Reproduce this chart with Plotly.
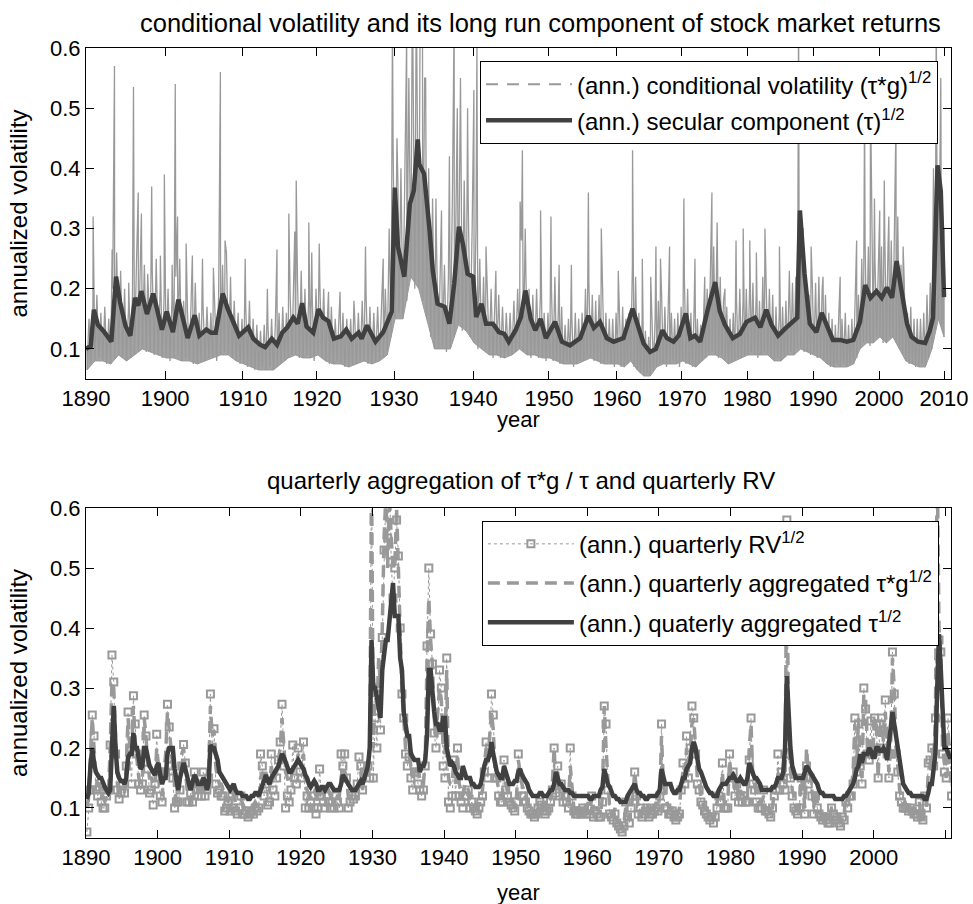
import numpy as np
import plotly.graph_objects as go

# ---------------- axis definitions ----------------
# top panel x axis runs on observation (trading day) count, in thousands,
# so decades are not equally wide; these are the counts at each decade start
decade_years = [1890, 1900, 1910, 1920, 1930, 1940, 1950, 1960, 1970, 1980, 1990, 2000, 2010]
decade_obs_k = [0.0, 3.07, 6.09, 8.96, 11.95, 15.02, 17.96, 20.60, 23.12, 25.65, 28.21, 30.77, 33.29]
obs_end_k = 33.56

yticks = [0.1, 0.2, 0.3, 0.4, 0.5, 0.6]

# ---------------- top panel data ----------------
top_tau_year = [1890.0, 1890.6, 1891.0, 1891.5, 1892.2, 1892.8, 1893.2, 1893.8, 1894.3, 1895.0,
                1895.6, 1896.2, 1896.6, 1897.0, 1897.7, 1898.5, 1899.2, 1899.6, 1900.2, 1900.7,
                1901.0, 1901.7, 1902.3, 1902.9, 1903.8, 1904.4, 1905.3, 1905.9, 1906.5, 1907.4,
                1908.0, 1908.6, 1909.5, 1910.7, 1911.4, 1912.3, 1913.0, 1913.9, 1914.6, 1915.3,
                1916.0, 1916.8, 1917.4, 1918.0, 1918.6, 1919.5, 1920.2, 1920.8, 1921.5, 1922.2,
                1923.1, 1923.8, 1924.5, 1925.4, 1925.8, 1926.5, 1927.6, 1928.6, 1929.7, 1930.1,
                1930.5, 1931.3, 1932.0, 1932.5, 1933.0, 1933.2, 1933.8, 1934.5, 1934.9, 1935.5,
                1936.4, 1937.0, 1937.6, 1938.2, 1938.7, 1939.3, 1940.0, 1940.4, 1941.1, 1941.7,
                1942.6, 1943.4, 1944.1, 1944.7, 1945.6, 1946.3, 1946.9, 1947.6, 1948.2, 1948.9,
                1949.6, 1950.9, 1951.9, 1953.1, 1953.8, 1954.6, 1955.8, 1956.6, 1957.5, 1958.5,
                1959.5, 1961.0, 1962.4, 1963.1, 1964.1, 1965.1, 1966.0, 1967.0, 1967.7, 1968.7,
                1969.5, 1970.6, 1971.3, 1972.0, 1972.8, 1974.0, 1975.1, 1975.8, 1976.6, 1977.8,
                1978.9, 1979.9, 1981.2, 1982.0, 1982.9, 1983.7, 1984.7, 1985.8, 1986.8, 1987.6,
                1988.0, 1988.7, 1989.5, 1990.5, 1991.3, 1992.0, 1993.0, 1994.1, 1995.1, 1996.1,
                1997.1, 1997.9, 1998.7, 1999.6, 2000.4, 2001.2, 2002.0, 2002.7, 2003.5, 2004.3,
                2005.0, 2006.0, 2007.1, 2007.8, 2008.3, 2009.0, 2009.5, 2010.0, 2010.9]
top_tau_val = [0.100, 0.105, 0.165, 0.140, 0.130, 0.118, 0.112, 0.220, 0.178, 0.138,
               0.122, 0.185, 0.172, 0.196, 0.158, 0.192, 0.152, 0.132, 0.162, 0.138,
               0.128, 0.182, 0.148, 0.118, 0.156, 0.122, 0.132, 0.127, 0.127, 0.192,
               0.168, 0.148, 0.122, 0.136, 0.117, 0.107, 0.103, 0.117, 0.107, 0.127,
               0.136, 0.152, 0.142, 0.176, 0.137, 0.127, 0.166, 0.152, 0.146, 0.117,
               0.121, 0.132, 0.117, 0.127, 0.117, 0.139, 0.112, 0.128, 0.162, 0.368,
               0.270, 0.220, 0.341, 0.363, 0.448, 0.407, 0.391, 0.297, 0.230, 0.175,
               0.170, 0.142, 0.208, 0.303, 0.275, 0.225, 0.220, 0.153, 0.175, 0.142,
               0.142, 0.128, 0.125, 0.112, 0.131, 0.153, 0.197, 0.150, 0.131, 0.150,
               0.118, 0.145, 0.112, 0.106, 0.112, 0.118, 0.155, 0.135, 0.145, 0.118,
               0.112, 0.118, 0.167, 0.142, 0.109, 0.095, 0.100, 0.131, 0.118, 0.112,
               0.122, 0.159, 0.118, 0.122, 0.112, 0.167, 0.211, 0.163, 0.140, 0.118,
               0.125, 0.145, 0.152, 0.136, 0.165, 0.140, 0.122, 0.134, 0.145, 0.152,
               0.330, 0.225, 0.142, 0.128, 0.160, 0.140, 0.115, 0.115, 0.112, 0.115,
               0.145, 0.206, 0.185, 0.196, 0.185, 0.202, 0.185, 0.246, 0.190, 0.142,
               0.120, 0.112, 0.110, 0.130, 0.152, 0.405, 0.362, 0.203, 0.186]

# conditional volatility: low / high excursions, first and second half of each year
cv_year = list(range(1890, 2011))
cv_low_a = [0.065, 0.080, 0.080, 0.075, 0.090, 0.080, 0.090, 0.100, 0.095, 0.090,
            0.085, 0.085, 0.080, 0.080, 0.075, 0.080, 0.085, 0.090, 0.090, 0.080,
            0.075, 0.070, 0.065, 0.065, 0.065, 0.075, 0.085, 0.090, 0.085, 0.085,
            0.090, 0.080, 0.075, 0.075, 0.070, 0.075, 0.080, 0.075, 0.080, 0.090,
            0.150, 0.150, 0.220, 0.200, 0.150, 0.100, 0.100, 0.100, 0.140, 0.130,
            0.110, 0.100, 0.090, 0.090, 0.085, 0.090, 0.100, 0.090, 0.090, 0.085,
            0.085, 0.080, 0.075, 0.075, 0.075, 0.080, 0.085, 0.080, 0.075, 0.075,
            0.075, 0.070, 0.080, 0.065, 0.055, 0.055, 0.070, 0.075, 0.075, 0.075,
            0.080, 0.075, 0.070, 0.080, 0.090, 0.090, 0.085, 0.075, 0.080, 0.085,
            0.090, 0.090, 0.090, 0.090, 0.080, 0.080, 0.090, 0.090, 0.100, 0.095,
            0.090, 0.085, 0.075, 0.070, 0.070, 0.070, 0.075, 0.100, 0.110, 0.110,
            0.120, 0.110, 0.120, 0.100, 0.080, 0.075, 0.070, 0.070, 0.100, 0.150,
            0.120]
cv_high_a = [0.150, 0.190, 0.170, 0.200, 0.230, 0.170, 0.240, 0.240, 0.230, 0.200,
             0.200, 0.220, 0.180, 0.190, 0.160, 0.170, 0.180, 0.240, 0.200, 0.160,
             0.170, 0.150, 0.130, 0.140, 0.140, 0.170, 0.190, 0.210, 0.200, 0.180,
             0.210, 0.180, 0.150, 0.160, 0.150, 0.160, 0.190, 0.160, 0.180, 0.300,
             0.450, 0.450, 0.620, 0.620, 0.400, 0.270, 0.240, 0.350, 0.450, 0.350,
             0.300, 0.220, 0.200, 0.190, 0.160, 0.180, 0.280, 0.200, 0.200, 0.160,
             0.200, 0.160, 0.140, 0.150, 0.150, 0.200, 0.190, 0.190, 0.160, 0.150,
             0.160, 0.150, 0.240, 0.160, 0.130, 0.140, 0.180, 0.170, 0.160, 0.160,
             0.220, 0.160, 0.150, 0.200, 0.250, 0.240, 0.180, 0.150, 0.180, 0.180,
             0.200, 0.190, 0.220, 0.200, 0.170, 0.170, 0.200, 0.220, 0.300, 0.190,
             0.210, 0.200, 0.160, 0.140, 0.150, 0.140, 0.170, 0.250, 0.270, 0.250,
             0.270, 0.270, 0.300, 0.240, 0.160, 0.150, 0.150, 0.190, 0.400, 0.450,
             0.250]
cv_low_b = [0.075, 0.085, 0.075, 0.085, 0.085, 0.085, 0.095, 0.095, 0.090, 0.085,
            0.080, 0.090, 0.085, 0.075, 0.080, 0.085, 0.080, 0.095, 0.085, 0.075,
            0.070, 0.065, 0.070, 0.070, 0.070, 0.080, 0.090, 0.085, 0.090, 0.080,
            0.085, 0.075, 0.080, 0.070, 0.075, 0.080, 0.075, 0.080, 0.085, 0.120,
            0.160, 0.180, 0.200, 0.180, 0.120, 0.100, 0.095, 0.120, 0.130, 0.120,
            0.100, 0.095, 0.085, 0.085, 0.090, 0.095, 0.095, 0.085, 0.085, 0.080,
            0.080, 0.075, 0.080, 0.070, 0.080, 0.085, 0.080, 0.075, 0.080, 0.070,
            0.070, 0.075, 0.070, 0.060, 0.060, 0.065, 0.075, 0.070, 0.080, 0.070,
            0.075, 0.070, 0.075, 0.085, 0.095, 0.085, 0.080, 0.080, 0.085, 0.090,
            0.095, 0.085, 0.095, 0.085, 0.085, 0.085, 0.095, 0.100, 0.095, 0.090,
            0.085, 0.080, 0.070, 0.075, 0.075, 0.075, 0.085, 0.110, 0.105, 0.120,
            0.110, 0.120, 0.110, 0.090, 0.075, 0.070, 0.075, 0.085, 0.130, 0.140,
            0.130]
cv_high_b = [0.170, 0.160, 0.150, 0.260, 0.200, 0.190, 0.220, 0.200, 0.250, 0.190,
             0.180, 0.250, 0.160, 0.210, 0.170, 0.160, 0.190, 0.260, 0.180, 0.150,
             0.180, 0.140, 0.140, 0.150, 0.160, 0.160, 0.200, 0.230, 0.180, 0.200,
             0.200, 0.170, 0.160, 0.150, 0.160, 0.180, 0.170, 0.170, 0.200, 0.450,
             0.400, 0.550, 0.600, 0.550, 0.350, 0.250, 0.220, 0.400, 0.380, 0.300,
             0.250, 0.200, 0.180, 0.170, 0.160, 0.200, 0.300, 0.190, 0.190, 0.160,
             0.220, 0.170, 0.150, 0.160, 0.160, 0.210, 0.180, 0.200, 0.150, 0.160,
             0.170, 0.160, 0.220, 0.150, 0.120, 0.150, 0.190, 0.160, 0.150, 0.170,
             0.200, 0.170, 0.140, 0.200, 0.270, 0.220, 0.170, 0.160, 0.200, 0.200,
             0.210, 0.180, 0.230, 0.190, 0.160, 0.180, 0.210, 0.300, 0.220, 0.210,
             0.220, 0.190, 0.150, 0.150, 0.160, 0.150, 0.190, 0.280, 0.300, 0.260,
             0.290, 0.280, 0.320, 0.210, 0.170, 0.150, 0.160, 0.210, 0.450, 0.300,
             0.240]
spike_year = [1890.9, 1893.3, 1893.6, 1895.4, 1896.0, 1896.6, 1897.0, 1897.8, 1898.3, 1899.4,
              1899.9, 1900.9, 1901.3, 1901.6, 1902.7, 1903.5, 1904.8, 1906.2, 1907.1, 1907.7,
              1908.4, 1910.3, 1913.3, 1914.6, 1916.2, 1917.0, 1917.2, 1918.9, 1919.3, 1920.3,
              1921.5, 1923.0, 1924.8, 1926.3, 1928.6, 1929.8, 1930.5, 1931.6, 1932.3, 1932.8,
              1933.3, 1933.6, 1934.0, 1935.3, 1936.0, 1937.0, 1937.6, 1938.0, 1938.4, 1939.3,
              1940.1, 1940.5, 1941.7, 1943.0, 1946.2, 1946.5, 1948.9, 1950.3, 1951.5, 1953.3,
              1955.8, 1957.7, 1960.2, 1962.4, 1963.9, 1965.2, 1966.0, 1966.7, 1968.1, 1970.3,
              1972.0, 1973.5, 1974.6, 1975.4, 1976.6, 1978.3, 1979.4, 1980.4, 1981.4, 1982.7,
              1984.9, 1986.4, 1987.8, 1988.5, 1989.7, 1991.5, 1994.1, 1996.6, 1997.8, 1998.7,
              1999.3, 2000.1, 2000.8, 2001.5, 2002.6, 2003.7, 2008.8, 2009.5, 2010.2]
spike_val = [0.320, 0.265, 0.570, 0.210, 0.535, 0.360, 0.325, 0.225, 0.370, 0.255,
             0.390, 0.240, 0.540, 0.320, 0.275, 0.255, 0.250, 0.235, 0.560, 0.280,
             0.220, 0.250, 0.200, 0.265, 0.325, 0.295, 0.380, 0.310, 0.260, 0.275,
             0.195, 0.195, 0.180, 0.270, 0.250, 0.650, 0.370, 0.620, 0.650, 0.650,
             0.650, 0.650, 0.550, 0.350, 0.330, 0.420, 0.650, 0.500, 0.550, 0.500,
             0.530, 0.600, 0.270, 0.230, 0.345, 0.430, 0.330, 0.320, 0.240, 0.240,
             0.360, 0.300, 0.230, 0.430, 0.250, 0.220, 0.270, 0.250, 0.270, 0.350,
             0.250, 0.220, 0.360, 0.310, 0.200, 0.280, 0.300, 0.280, 0.260, 0.300,
             0.270, 0.230, 0.660, 0.300, 0.270, 0.220, 0.220, 0.280, 0.500, 0.520,
             0.350, 0.330, 0.380, 0.320, 0.480, 0.270, 0.660, 0.550, 0.300]

# ---------------- bottom panel data (quarterly, one row per year) ----------------
q_year = list(range(1890, 2011))
tau_q = [
    [0.115, 0.125, 0.170, 0.200], [0.175, 0.160, 0.155, 0.150], [0.150, 0.140, 0.135, 0.130], [0.125, 0.130, 0.200, 0.270],
    [0.200, 0.160, 0.150, 0.145], [0.145, 0.140, 0.150, 0.185], [0.190, 0.190, 0.225, 0.200], [0.200, 0.175, 0.165, 0.170],
    [0.200, 0.200, 0.185, 0.170], [0.165, 0.160, 0.155, 0.170], [0.175, 0.155, 0.140, 0.150], [0.150, 0.190, 0.200, 0.200],
    [0.200, 0.165, 0.140, 0.130], [0.150, 0.165, 0.175, 0.165], [0.150, 0.140, 0.130, 0.140], [0.155, 0.150, 0.140, 0.140],
    [0.140, 0.150, 0.145, 0.130], [0.140, 0.205, 0.200, 0.200], [0.190, 0.180, 0.160, 0.155], [0.150, 0.145, 0.140, 0.135],
    [0.130, 0.135, 0.140, 0.130], [0.125, 0.125, 0.125, 0.120], [0.120, 0.120, 0.115, 0.115], [0.120, 0.120, 0.125, 0.125],
    [0.120, 0.130, 0.140, 0.145], [0.155, 0.145, 0.140, 0.150], [0.155, 0.160, 0.165, 0.170], [0.180, 0.190, 0.185, 0.175],
    [0.170, 0.160, 0.160, 0.165], [0.170, 0.175, 0.180, 0.175], [0.170, 0.165, 0.155, 0.150], [0.140, 0.135, 0.140, 0.145],
    [0.140, 0.130, 0.130, 0.135], [0.135, 0.130, 0.135, 0.140], [0.140, 0.135, 0.130, 0.130], [0.130, 0.130, 0.140, 0.155],
    [0.150, 0.145, 0.140, 0.135], [0.130, 0.130, 0.130, 0.135], [0.140, 0.145, 0.140, 0.150], [0.165, 0.170, 0.200, 0.380],
    [0.300, 0.300, 0.285, 0.270], [0.250, 0.330, 0.350, 0.380], [0.380, 0.420, 0.450, 0.475], [0.420, 0.420, 0.420, 0.350],
    [0.330, 0.260, 0.240, 0.220], [0.220, 0.190, 0.185, 0.180], [0.180, 0.180, 0.160, 0.170], [0.170, 0.180, 0.220, 0.330],
    [0.330, 0.290, 0.260, 0.240], [0.240, 0.230, 0.230, 0.250], [0.250, 0.200, 0.180, 0.170], [0.175, 0.170, 0.160, 0.155],
    [0.150, 0.150, 0.170, 0.160], [0.150, 0.150, 0.150, 0.140], [0.140, 0.135, 0.135, 0.135], [0.140, 0.160, 0.170, 0.180],
    [0.180, 0.190, 0.210, 0.190], [0.170, 0.160, 0.155, 0.150], [0.150, 0.170, 0.160, 0.150], [0.140, 0.140, 0.140, 0.145],
    [0.145, 0.160, 0.165, 0.155], [0.150, 0.145, 0.140, 0.130], [0.125, 0.120, 0.120, 0.120], [0.120, 0.125, 0.125, 0.120],
    [0.120, 0.120, 0.125, 0.130], [0.130, 0.140, 0.160, 0.150], [0.140, 0.140, 0.135, 0.130], [0.130, 0.130, 0.125, 0.125],
    [0.120, 0.120, 0.120, 0.120], [0.120, 0.120, 0.120, 0.120], [0.120, 0.115, 0.115, 0.120], [0.120, 0.120, 0.120, 0.130],
    [0.135, 0.165, 0.150, 0.140], [0.135, 0.125, 0.120, 0.120], [0.115, 0.115, 0.110, 0.110], [0.110, 0.110, 0.120, 0.125],
    [0.130, 0.135, 0.140, 0.130], [0.125, 0.125, 0.120, 0.120], [0.115, 0.115, 0.120, 0.120], [0.120, 0.120, 0.120, 0.125],
    [0.130, 0.165, 0.150, 0.140], [0.140, 0.140, 0.140, 0.130], [0.125, 0.125, 0.130, 0.130], [0.140, 0.150, 0.150, 0.165],
    [0.170, 0.175, 0.200, 0.210], [0.200, 0.175, 0.165, 0.160], [0.150, 0.140, 0.135, 0.130], [0.125, 0.125, 0.120, 0.120],
    [0.120, 0.130, 0.135, 0.140], [0.140, 0.140, 0.145, 0.150], [0.150, 0.155, 0.150, 0.145], [0.145, 0.150, 0.145, 0.140],
    [0.140, 0.150, 0.175, 0.165], [0.155, 0.150, 0.150, 0.145], [0.140, 0.130, 0.130, 0.130], [0.130, 0.130, 0.130, 0.135],
    [0.135, 0.140, 0.150, 0.150], [0.150, 0.160, 0.200, 0.320], [0.240, 0.200, 0.170, 0.160], [0.150, 0.150, 0.150, 0.150],
    [0.150, 0.160, 0.170, 0.165], [0.160, 0.155, 0.150, 0.145], [0.140, 0.130, 0.125, 0.125], [0.120, 0.120, 0.120, 0.120],
    [0.120, 0.120, 0.115, 0.115], [0.115, 0.115, 0.115, 0.120], [0.120, 0.125, 0.130, 0.135], [0.140, 0.150, 0.165, 0.170],
    [0.190, 0.175, 0.190, 0.190], [0.190, 0.200, 0.195, 0.185], [0.185, 0.200, 0.200, 0.195], [0.195, 0.200, 0.195, 0.180],
    [0.210, 0.230, 0.260, 0.240], [0.220, 0.190, 0.170, 0.150], [0.140, 0.135, 0.130, 0.125], [0.125, 0.120, 0.120, 0.120],
    [0.120, 0.120, 0.120, 0.120], [0.115, 0.115, 0.125, 0.140], [0.140, 0.160, 0.190, 0.300], [0.390, 0.330, 0.240, 0.200],
    [0.200, 0.190, 0.185, 0.185]]
taug_q = [
    [0.100, 0.120, 0.190, 0.250], [0.200, 0.150, 0.140, 0.140], [0.130, 0.120, 0.110, 0.120], [0.120, 0.200, 0.310, 0.300],
    [0.200, 0.140, 0.125, 0.130], [0.130, 0.125, 0.170, 0.250], [0.200, 0.190, 0.270, 0.210], [0.180, 0.150, 0.140, 0.150],
    [0.250, 0.220, 0.170, 0.150], [0.150, 0.140, 0.140, 0.200], [0.170, 0.130, 0.120, 0.150], [0.190, 0.260, 0.230, 0.200],
    [0.170, 0.130, 0.110, 0.110], [0.150, 0.190, 0.200, 0.170], [0.130, 0.120, 0.110, 0.120], [0.150, 0.140, 0.130, 0.130],
    [0.130, 0.150, 0.130, 0.125], [0.150, 0.270, 0.220, 0.230], [0.170, 0.150, 0.140, 0.140], [0.130, 0.120, 0.115, 0.110],
    [0.120, 0.130, 0.120, 0.110], [0.110, 0.110, 0.115, 0.105], [0.100, 0.100, 0.095, 0.095], [0.100, 0.105, 0.110, 0.105],
    [0.110, 0.150, 0.160, 0.150], [0.160, 0.130, 0.130, 0.170], [0.150, 0.150, 0.160, 0.180], [0.200, 0.250, 0.200, 0.160],
    [0.150, 0.140, 0.150, 0.160], [0.170, 0.170, 0.190, 0.180], [0.180, 0.190, 0.140, 0.130], [0.120, 0.120, 0.130, 0.130],
    [0.120, 0.110, 0.120, 0.130], [0.120, 0.120, 0.130, 0.130], [0.120, 0.120, 0.115, 0.120], [0.120, 0.120, 0.150, 0.170],
    [0.160, 0.150, 0.120, 0.120], [0.120, 0.120, 0.120, 0.130], [0.150, 0.160, 0.130, 0.160], [0.170, 0.180, 0.200, 0.660],
    [0.200, 0.300, 0.260, 0.350], [0.300, 0.400, 0.550, 0.620], [0.500, 0.620, 0.550, 0.500], [0.500, 0.600, 0.500, 0.400],
    [0.290, 0.250, 0.200, 0.190], [0.190, 0.170, 0.150, 0.170], [0.160, 0.160, 0.150, 0.140], [0.140, 0.180, 0.350, 0.450],
    [0.380, 0.340, 0.250, 0.220], [0.260, 0.300, 0.280, 0.200], [0.190, 0.330, 0.150, 0.140], [0.140, 0.180, 0.140, 0.190],
    [0.140, 0.130, 0.120, 0.140], [0.140, 0.130, 0.120, 0.120], [0.110, 0.110, 0.100, 0.105], [0.120, 0.130, 0.170, 0.200],
    [0.180, 0.220, 0.260, 0.230], [0.160, 0.150, 0.130, 0.120], [0.120, 0.160, 0.140, 0.130], [0.120, 0.110, 0.110, 0.100],
    [0.120, 0.180, 0.160, 0.140], [0.130, 0.120, 0.110, 0.100], [0.100, 0.095, 0.090, 0.090], [0.100, 0.110, 0.110, 0.100],
    [0.100, 0.100, 0.100, 0.110], [0.140, 0.200, 0.140, 0.160], [0.130, 0.140, 0.120, 0.130], [0.120, 0.110, 0.170, 0.130],
    [0.100, 0.100, 0.100, 0.100], [0.100, 0.100, 0.100, 0.095], [0.110, 0.100, 0.120, 0.100], [0.100, 0.100, 0.095, 0.090],
    [0.120, 0.270, 0.200, 0.140], [0.100, 0.090, 0.090, 0.100], [0.080, 0.075, 0.075, 0.070], [0.075, 0.100, 0.090, 0.080],
    [0.100, 0.120, 0.160, 0.130], [0.100, 0.100, 0.090, 0.100], [0.100, 0.110, 0.090, 0.090], [0.100, 0.100, 0.110, 0.100],
    [0.120, 0.220, 0.140, 0.120], [0.110, 0.100, 0.100, 0.100], [0.090, 0.085, 0.090, 0.100], [0.140, 0.160, 0.150, 0.200],
    [0.160, 0.190, 0.240, 0.250], [0.200, 0.150, 0.140, 0.120], [0.110, 0.100, 0.100, 0.090], [0.090, 0.090, 0.080, 0.090],
    [0.110, 0.120, 0.120, 0.160], [0.110, 0.110, 0.110, 0.180], [0.150, 0.160, 0.130, 0.150], [0.120, 0.130, 0.120, 0.130],
    [0.120, 0.120, 0.200, 0.240], [0.150, 0.140, 0.120, 0.110], [0.110, 0.110, 0.120, 0.100], [0.100, 0.100, 0.090, 0.100],
    [0.130, 0.140, 0.160, 0.140], [0.150, 0.150, 0.140, 0.560], [0.200, 0.170, 0.130, 0.120], [0.100, 0.100, 0.100, 0.150],
    [0.140, 0.100, 0.200, 0.160], [0.160, 0.130, 0.100, 0.130], [0.110, 0.100, 0.090, 0.090], [0.090, 0.090, 0.080, 0.080],
    [0.100, 0.100, 0.090, 0.090], [0.080, 0.080, 0.090, 0.090], [0.120, 0.110, 0.120, 0.130], [0.160, 0.240, 0.170, 0.250],
    [0.180, 0.150, 0.290, 0.280], [0.200, 0.190, 0.220, 0.190], [0.250, 0.240, 0.150, 0.230], [0.240, 0.210, 0.260, 0.200],
    [0.160, 0.200, 0.350, 0.300], [0.200, 0.170, 0.130, 0.120], [0.110, 0.110, 0.100, 0.100], [0.100, 0.100, 0.090, 0.095],
    [0.090, 0.110, 0.085, 0.080], [0.120, 0.100, 0.160, 0.170], [0.200, 0.180, 0.250, 0.680], [0.400, 0.360, 0.200, 0.170],
    [0.150, 0.230, 0.190, 0.140]]
rv_q = [
    [0.060, 0.100, 0.130, 0.255], [0.220, 0.130, 0.120, 0.135], [0.110, 0.100, 0.100, 0.120], [0.130, 0.205, 0.355, 0.310],
    [0.190, 0.130, 0.115, 0.125], [0.140, 0.125, 0.170, 0.260], [0.200, 0.140, 0.287, 0.240], [0.190, 0.140, 0.130, 0.140],
    [0.255, 0.220, 0.165, 0.125], [0.130, 0.105, 0.140, 0.223], [0.150, 0.120, 0.110, 0.160], [0.160, 0.273, 0.235, 0.170],
    [0.150, 0.100, 0.110, 0.110], [0.130, 0.170, 0.206, 0.175], [0.110, 0.110, 0.125, 0.110], [0.160, 0.130, 0.120, 0.140],
    [0.120, 0.160, 0.120, 0.130], [0.150, 0.290, 0.200, 0.232], [0.140, 0.125, 0.130, 0.120], [0.120, 0.095, 0.100, 0.110],
    [0.095, 0.120, 0.100, 0.095], [0.090, 0.100, 0.120, 0.090], [0.090, 0.095, 0.085, 0.090], [0.095, 0.090, 0.100, 0.095],
    [0.100, 0.190, 0.170, 0.120], [0.140, 0.105, 0.110, 0.190], [0.130, 0.120, 0.150, 0.180], [0.210, 0.273, 0.170, 0.100],
    [0.120, 0.110, 0.130, 0.205], [0.150, 0.140, 0.200, 0.160], [0.150, 0.210, 0.100, 0.120], [0.100, 0.110, 0.120, 0.100],
    [0.090, 0.100, 0.165, 0.120], [0.110, 0.100, 0.120, 0.110], [0.100, 0.110, 0.100, 0.120], [0.110, 0.100, 0.190, 0.170],
    [0.190, 0.150, 0.100, 0.110], [0.120, 0.115, 0.120, 0.140], [0.185, 0.170, 0.130, 0.160], [0.160, 0.170, 0.150, 0.680],
    [0.150, 0.250, 0.200, 0.300], [0.230, 0.384, 0.530, 0.620], [0.550, 0.660, 0.510, 0.450], [0.500, 0.580, 0.520, 0.400],
    [0.290, 0.250, 0.190, 0.170], [0.185, 0.150, 0.130, 0.160], [0.160, 0.140, 0.130, 0.120], [0.130, 0.170, 0.370, 0.500],
    [0.390, 0.340, 0.225, 0.200], [0.230, 0.330, 0.300, 0.170], [0.150, 0.350, 0.110, 0.100], [0.120, 0.180, 0.120, 0.200],
    [0.120, 0.110, 0.100, 0.120], [0.120, 0.130, 0.100, 0.110], [0.100, 0.095, 0.090, 0.100], [0.110, 0.120, 0.160, 0.210],
    [0.150, 0.200, 0.290, 0.255], [0.150, 0.150, 0.120, 0.110], [0.110, 0.180, 0.130, 0.120], [0.110, 0.105, 0.100, 0.095],
    [0.110, 0.190, 0.150, 0.120], [0.120, 0.110, 0.100, 0.095], [0.090, 0.090, 0.085, 0.090], [0.100, 0.110, 0.105, 0.095],
    [0.090, 0.095, 0.100, 0.110], [0.130, 0.200, 0.125, 0.170], [0.120, 0.140, 0.110, 0.120], [0.110, 0.100, 0.200, 0.120],
    [0.095, 0.090, 0.090, 0.095], [0.090, 0.100, 0.095, 0.090], [0.100, 0.090, 0.120, 0.085], [0.095, 0.090, 0.085, 0.085],
    [0.110, 0.270, 0.240, 0.130], [0.090, 0.085, 0.080, 0.090], [0.075, 0.070, 0.065, 0.060], [0.070, 0.110, 0.085, 0.075],
    [0.100, 0.120, 0.160, 0.120], [0.090, 0.100, 0.085, 0.090], [0.095, 0.100, 0.085, 0.090], [0.090, 0.095, 0.100, 0.095],
    [0.120, 0.240, 0.130, 0.100], [0.100, 0.090, 0.090, 0.095], [0.085, 0.080, 0.085, 0.090], [0.130, 0.175, 0.140, 0.220],
    [0.150, 0.200, 0.270, 0.250], [0.190, 0.140, 0.130, 0.110], [0.105, 0.095, 0.090, 0.085], [0.080, 0.085, 0.075, 0.085],
    [0.100, 0.120, 0.110, 0.175], [0.100, 0.100, 0.100, 0.190], [0.150, 0.160, 0.120, 0.140], [0.110, 0.120, 0.110, 0.120],
    [0.110, 0.110, 0.180, 0.250], [0.140, 0.130, 0.110, 0.100], [0.100, 0.100, 0.130, 0.095], [0.095, 0.090, 0.085, 0.100],
    [0.120, 0.130, 0.190, 0.130], [0.160, 0.140, 0.130, 0.580], [0.190, 0.150, 0.120, 0.100], [0.095, 0.090, 0.100, 0.150],
    [0.130, 0.090, 0.170, 0.140], [0.150, 0.120, 0.090, 0.120], [0.100, 0.090, 0.085, 0.080], [0.085, 0.080, 0.075, 0.075],
    [0.100, 0.090, 0.080, 0.085], [0.075, 0.070, 0.085, 0.080], [0.110, 0.100, 0.120, 0.120], [0.140, 0.250, 0.160, 0.240],
    [0.170, 0.140, 0.300, 0.265], [0.190, 0.180, 0.245, 0.190], [0.250, 0.240, 0.150, 0.240], [0.250, 0.200, 0.280, 0.190],
    [0.150, 0.190, 0.360, 0.290], [0.190, 0.160, 0.120, 0.110], [0.100, 0.100, 0.100, 0.095], [0.100, 0.095, 0.090, 0.090],
    [0.085, 0.110, 0.085, 0.080], [0.120, 0.100, 0.175, 0.180], [0.200, 0.170, 0.250, 0.700], [0.380, 0.360, 0.190, 0.160],
    [0.150, 0.250, 0.200, 0.120]]

# ---------------- styling ----------------
LIGHT = "#999999"
BAND = "#a3a3a3"
DARK = "#404040"
FONT = "Liberation Sans, Arial, Helvetica, sans-serif"
TICK_FS = 22
LEG_FS = 24


def to_obs(years):
    return np.interp(np.asarray(years, dtype=float), decade_years, decade_obs_k)


# top conditional volatility path: alternating low/high excursions plus the big spikes
cv_pts = []
for i, yr in enumerate(cv_year):
    cv_pts.append((yr + 0.125, cv_low_a[i]))
    cv_pts.append((yr + 0.375, cv_high_a[i]))
    cv_pts.append((yr + 0.625, cv_low_b[i]))
    cv_pts.append((yr + 0.875, cv_high_b[i]))
for yr, v in zip(spike_year, spike_val):
    cv_pts.append((yr, v))
cv_pts.sort(key=lambda p: p[0])
cv_x = to_obs([p[0] for p in cv_pts])
cv_y = [p[1] for p in cv_pts]

low_x = to_obs([yr + 0.125 for yr in cv_year])
tau_top_x = to_obs(top_tau_year)

# bottom quarterly series
qx, tq, gq, rq = [], [], [], []
for i, yr in enumerate(q_year):
    for q in range(4):
        qx.append(yr + (q + 0.5) / 4.0)
        tq.append(tau_q[i][q])
        gq.append(taug_q[i][q])
        rq.append(rv_q[i][q])

fig = go.Figure()

# ---- top panel ----
# dense body of the conditional volatility: from its lower envelope up to the secular level
fig.add_trace(go.Scatter(x=low_x, y=cv_low_a, mode="lines", line=dict(color=LIGHT, width=1),
                         showlegend=False, xaxis="x", yaxis="y", hoverinfo="skip"))
fig.add_trace(go.Scatter(x=tau_top_x, y=top_tau_val, mode="lines", line=dict(color=BAND, width=0),
                         fill="tonexty", fillcolor=BAND,
                         showlegend=False, xaxis="x", yaxis="y", hoverinfo="skip"))
fig.add_trace(go.Scatter(x=cv_x, y=cv_y, mode="lines", line=dict(color=LIGHT, width=1.3),
                         showlegend=False, xaxis="x", yaxis="y", hoverinfo="skip"))
fig.add_trace(go.Scatter(x=[None], y=[None], mode="lines",
                         line=dict(color=LIGHT, width=2, dash="12px,9px"),
                         name="(ann.) conditional volatility (τ*g)<sup>1/2</sup>",
                         legendgroup="a", xaxis="x", yaxis="y", legend="legend"))
fig.add_trace(go.Scatter(x=tau_top_x, y=top_tau_val, mode="lines",
                         line=dict(color=DARK, width=4.5),
                         name="(ann.) secular component (τ)<sup>1/2</sup>",
                         legendgroup="b", xaxis="x", yaxis="y", legend="legend"))

# ---- bottom panel ----
fig.add_trace(go.Scatter(x=qx, y=rq, mode="lines+markers",
                         line=dict(color=LIGHT, width=1, dash="dot"),
                         marker=dict(symbol="square-open", size=7, color=LIGHT,
                                     line=dict(width=2, color=LIGHT)),
                         name="(ann.) quarterly RV<sup>1/2</sup>",
                         legendgroup="c", xaxis="x2", yaxis="y2", legend="legend2"))
fig.add_trace(go.Scatter(x=qx, y=gq, mode="lines",
                         line=dict(color=LIGHT, width=3.5, dash="12px,7px"),
                         name="(ann.) quarterly aggregated τ*g<sup>1/2</sup>",
                         legendgroup="d", xaxis="x2", yaxis="y2", legend="legend2"))
fig.add_trace(go.Scatter(x=qx, y=tq, mode="lines",
                         line=dict(color=DARK, width=4.5),
                         name="(ann.) quaterly aggregated τ<sup>1/2</sup>",
                         legendgroup="e", xaxis="x2", yaxis="y2", legend="legend2"))

axis_common = dict(showgrid=False, zeroline=False, showline=True, linecolor="black", linewidth=1,
                   mirror="ticks", ticks="inside", ticklen=8, tickcolor="black", automargin=False,
                   ticklabeloverflow="allow",
                   tickfont=dict(family=FONT, size=TICK_FS, color="black"))
ytitle = dict(text="annualized volatility", font=dict(family=FONT, size=24), standoff=15)

fig.update_layout(
    width=973, height=904,
    template="none",
    margin=dict(l=86, r=22, t=48, b=66),
    paper_bgcolor="white", plot_bgcolor="white",
    font=dict(family=FONT, size=TICK_FS, color="black"),
    hovermode=False,
    xaxis=dict(domain=[0, 1], anchor="y", range=[0, obs_end_k],
               tickmode="array", tickvals=decade_obs_k, ticktext=[str(y) for y in decade_years],
               **axis_common),
    yaxis=dict(domain=[0.581, 1.0], anchor="x", range=[0.05, 0.6],
               tickmode="array", tickvals=yticks, ticktext=[f"{v:.1f}" for v in yticks],
               title=ytitle, **axis_common),
    xaxis2=dict(domain=[0, 1], anchor="y2", range=[1890, 2010.8],
                tickmode="array", tickvals=decade_years,
                ticktext=[str(y) if y < 2010 else "" for y in decade_years],
                **axis_common),
    yaxis2=dict(domain=[0.0, 0.4177], anchor="x2", range=[0.05, 0.6],
                tickmode="array", tickvals=yticks, ticktext=[f"{v:.1f}" for v in yticks],
                title=ytitle, **axis_common),
    legend=dict(x=0.985, y=0.9835, xanchor="right", yanchor="top", bgcolor="white",
                bordercolor="black", borderwidth=1, font=dict(family=FONT, size=LEG_FS),
                itemwidth=86, tracegroupgap=2, traceorder="grouped"),
    legend2=dict(x=0.986, y=0.4016, xanchor="right", yanchor="top", bgcolor="white",
                 bordercolor="black", borderwidth=1, font=dict(family=FONT, size=LEG_FS),
                 itemwidth=86, tracegroupgap=5, traceorder="grouped"),
    annotations=[
        dict(text="conditional volatility and its long run component of stock market returns",
             xref="paper", yref="paper", x=0.525, y=1.0, yshift=25, xanchor="center", yanchor="middle",
             showarrow=False, font=dict(family=FONT, size=25.5)),
        dict(text="quarterly aggregation of τ*g / τ and quarterly RV",
             xref="paper", yref="paper", x=0.503, y=0.4177, yshift=28, xanchor="center", yanchor="middle",
             showarrow=False, font=dict(family=FONT, size=24)),
        dict(text="year", xref="paper", yref="paper", x=0.5, y=0.581, yshift=-40,
             xanchor="center", yanchor="middle", showarrow=False, font=dict(family=FONT, size=TICK_FS)),
        dict(text="year", xref="paper", yref="paper", x=0.5, y=0.0, yshift=-54,
             xanchor="center", yanchor="middle", showarrow=False, font=dict(family=FONT, size=TICK_FS)),
    ],
)

fig.write_html("out.html", config={"displayModeBar": False, "staticPlot": True},
               post_script="document.body.style.margin='0px';")
